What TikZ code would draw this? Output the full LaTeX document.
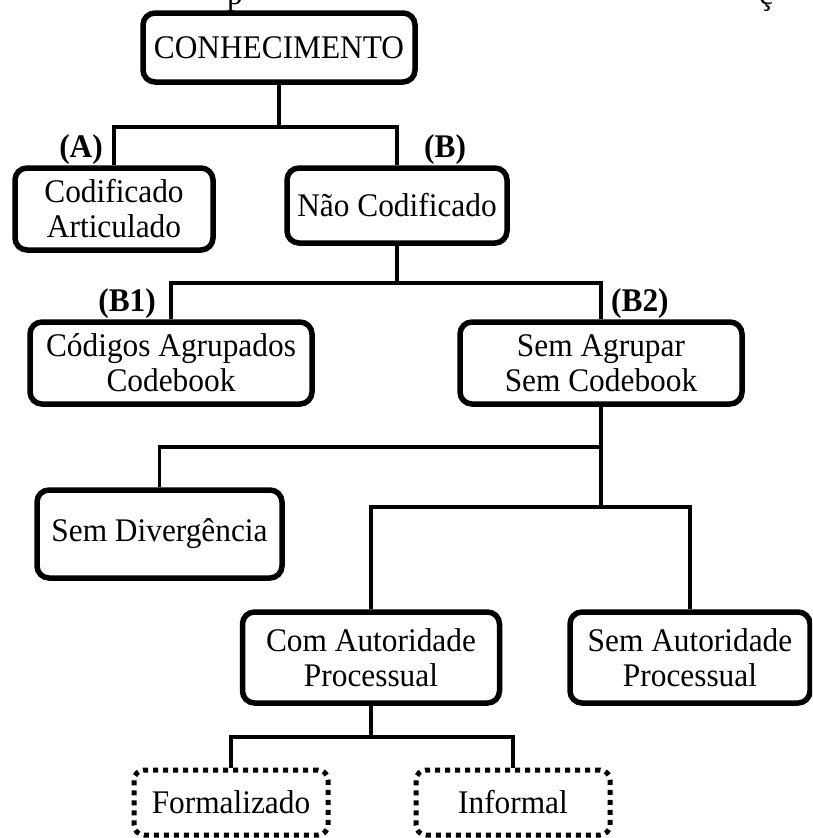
\documentclass[tikz,border=0pt]{standalone}
\usepackage{fontspec}
\setmainfont{Liberation Serif}[FakeStretch=0.95]
\begin{document}
\begin{tikzpicture}[x=1pt,y=-1pt,
  every node/.style={font=\fontsize{33}{35}\selectfont, inner sep=0pt},
  card/.style={draw, line width=5.5pt, rounded corners=12pt, align=center},
  dotcard/.style={draw, line width=5pt, dash pattern=on 5pt off 5pt, rounded corners=10pt, align=center},
  link/.style={line width=3.5pt, line join=miter},
  tag/.style={font=\fontsize{33}{35}\selectfont\bfseries}]
\useasboundingbox (0,0) rectangle (812,838);
\clip (0,0) rectangle (812,838);

% caption line above, mostly cut off by the frame
\node[anchor=base] (capp) at (235,4) {p};
\node[anchor=base] (capc) at (766,4) {ç};

% boxes
\node[card, minimum width=272pt, minimum height=69pt] (con) at (279,47.5) {CONHECIMENTO};
\node[card, minimum width=198pt, minimum height=82pt] (cod) at (114,209) {Codificado\\Articulado};
\node[card, minimum width=220pt, minimum height=75pt] (nao) at (397,205.5) {Não Codificado};
\node[card, minimum width=282pt, minimum height=82pt] (cag) at (171,363) {Códigos Agrupados\\Codebook};
\node[card, minimum width=282pt, minimum height=82pt] (sag) at (601,363) {Sem Agrupar\\Sem Codebook};
\node[card, minimum width=245pt, minimum height=88pt] (sdv) at (159.5,534) {Sem Divergência};
\node[card, minimum width=257pt, minimum height=91pt] (cap) at (371,657.5) {Com Autoridade\\Processual};
\node[card, minimum width=240pt, minimum height=91pt] (sap) at (690,657.5) {Sem Autoridade\\Processual};
\node[dotcard, minimum width=194pt, minimum height=65pt] (frm) at (231,802.5) {Formalizado};
\node[dotcard, minimum width=194pt, minimum height=65pt] (inf) at (513,802.5) {Informal};

% branch labels
\node[tag, anchor=base east] (la) at (103,157) {(A)};
\node[tag, anchor=base west] (lb) at (424,157) {(B)};
\node[tag, anchor=base east] (lb1) at (156,311) {(B1)};
\node[tag, anchor=base west] (lb2) at (611,311) {(B2)};

% junction levels
\coordinate (j1) at (0,127);
\coordinate (j2) at (0,283);
\coordinate (j3) at (0,447);
\coordinate (j4) at (0,507);
\coordinate (j5) at (0,737);

% connectors
\draw[link] (con.south) -- (con.south |- j1);
\draw[link] (cod.north) -- (cod.north |- j1) -- (nao.north |- j1) -- (nao.north);
\draw[link] (nao.south) -- (nao.south |- j2);
\draw[link] (cag.north) -- (cag.north |- j2) -- (sag.north |- j2) -- (sag.north);
\draw[link] (sag.south) -- (sag.south |- j4);
\draw[link] (sdv.north) -- (sdv.north |- j3) -- (sag.south |- j3);
\draw[link] (cap.north) -- (cap.north |- j4) -- (sap.north |- j4) -- (sap.north);
\draw[link] (cap.south) -- (cap.south |- j5);
\draw[link] (frm.north) -- (frm.north |- j5) -- (inf.north |- j5) -- (inf.north);
\end{tikzpicture}
\end{document}
